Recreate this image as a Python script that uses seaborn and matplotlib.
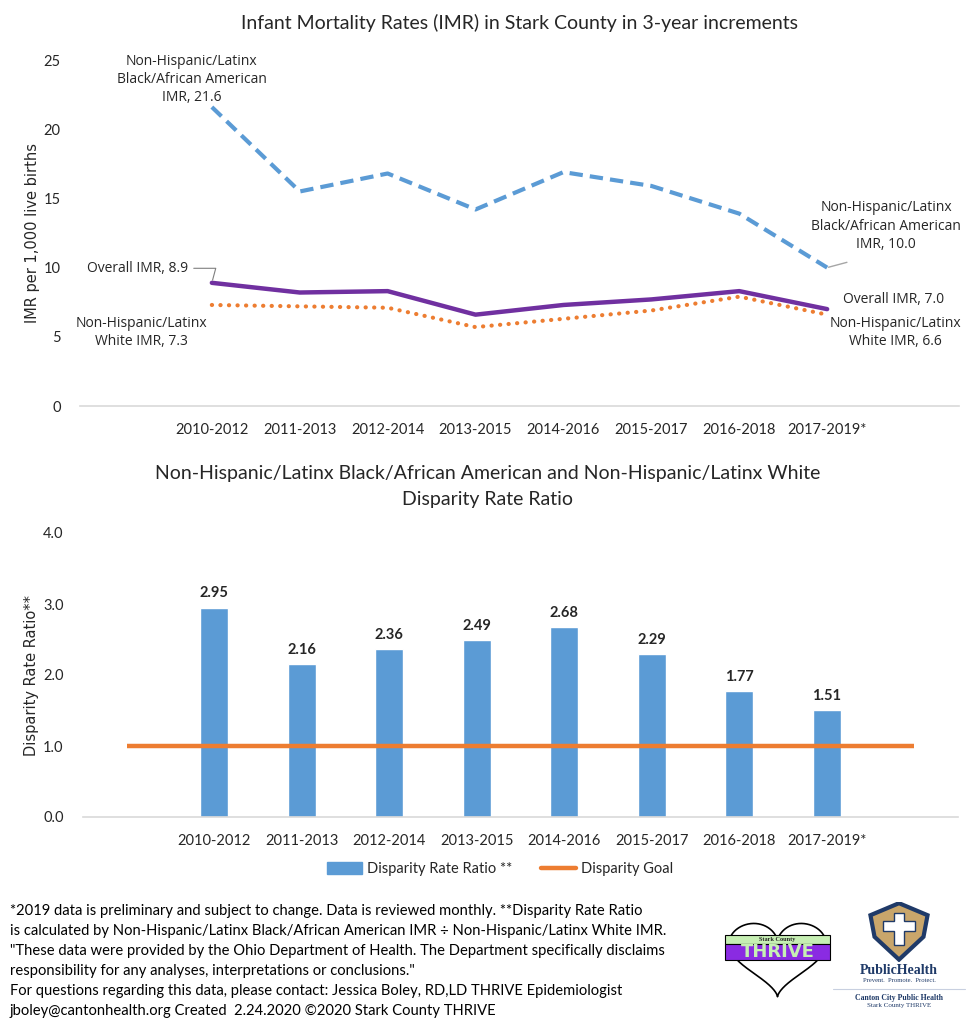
import numpy as np
import pandas as pd
import matplotlib
matplotlib.use("Agg")
import matplotlib.pyplot as plt
import matplotlib.patches as mpatches
from matplotlib.lines import Line2D
import seaborn as sns

# ---- data ----
periods = ["2010-2012", "2011-2013", "2012-2014", "2013-2015",
           "2014-2016", "2015-2017", "2016-2018", "2017-2019*"]
imr_black = [21.6, 15.5, 16.8, 14.2, 16.9, 15.9, 13.9, 10.0]
imr_overall = [8.9, 8.2, 8.3, 6.6, 7.3, 7.7, 8.3, 7.0]
imr_white = [7.3, 7.2, 7.1, 5.7, 6.3, 6.9, 7.9, 6.6]
disparity_ratio = [2.95, 2.16, 2.36, 2.49, 2.68, 2.29, 1.77, 1.51]
disparity_goal = 1.0

BLUE = "#5B9BD5"
ORANGE = "#ED7D31"
PURPLE = "#7030A0"
TXT = "#262626"

sns.set_theme(style="white")
plt.rcParams['font.family'] = ['Lato', 'DejaVu Sans']

fig = plt.figure(figsize=(9.71, 10.24), dpi=100)

# ---------------- top chart: IMR lines ----------------
ax1 = fig.add_axes([80 / 971, 1 - 406 / 1024, 879 / 971, 346 / 1024])
df = pd.DataFrame({"period": periods, "black": imr_black,
                   "overall": imr_overall, "white": imr_white})
sns.lineplot(data=df, x="period", y="black", ax=ax1, color=BLUE, lw=3.0,
             linestyle=(0, (3.2, 1.7)))
sns.lineplot(data=df, x="period", y="white", ax=ax1, color=ORANGE, lw=3.0,
             linestyle=(0, (0.05, 2.0)), dash_capstyle="round")
sns.lineplot(data=df, x="period", y="overall", ax=ax1, color=PURPLE, lw=3.2)
ax1.set_xlim(-1.5, len(periods) + 0.5)
ax1.set_ylim(0, 25)
ax1.set_yticks([0, 5, 10, 15, 20, 25])
ax1.set_xlabel("")
ax1.set_ylabel("IMR per 1,000 live births", fontsize=10.5, color=TXT,
               family="DejaVu Sans")
ax1.yaxis.set_label_coords(-0.046, 0.5)
ax1.tick_params(axis="y", length=0, pad=14, labelsize=10.5, labelcolor=TXT)
ax1.tick_params(axis="x", length=0, pad=12, labelsize=10.5, labelcolor=TXT)
for s in ["top", "right", "left"]:
    ax1.spines[s].set_visible(False)
ax1.spines["bottom"].set_color("#D9D9D9")
ax1.spines["bottom"].set_linewidth(1.2)
ax1.set_title("Infant Mortality Rates (IMR) in Stark County in 3-year increments",
              fontsize=14, color=TXT, pad=22)

ann = dict(fontsize=10, color=TXT, ha="center", va="center",
           family=["Open Sans", "DejaVu Sans"], linespacing=1.3)
last = len(periods) - 1
ax1.text(-0.23, 23.6, f"Non-Hispanic/Latinx\nBlack/African American\nIMR, {imr_black[0]:.1f}", **ann)
ax1.annotate(f"Overall IMR, {imr_overall[0]:.1f}", xy=(0, imr_overall[0]),
             xytext=(-0.85, 9.95), textcoords="data",
             arrowprops=dict(arrowstyle="-", color="#7F7F7F", lw=0.8,
                             connectionstyle="angle,angleA=0,angleB=75,rad=0",
                             shrinkA=2, shrinkB=2), **ann)
ax1.text(-0.8, 5.3, f"Non-Hispanic/Latinx\nWhite IMR, {imr_white[0]:.1f}", **ann)
ax1.annotate(f"Non-Hispanic/Latinx\nBlack/African American\nIMR, {imr_black[last]:.1f}",
             xy=(last, imr_black[last]), xytext=(last + 0.67, 13.0), textcoords="data",
             arrowprops=dict(arrowstyle="-", color="#A6A6A6", lw=1.0,
                             shrinkA=20, shrinkB=1, relpos=(0.5, 0.0)), **ann)
ax1.text(last + 0.76, 7.66, f"Overall IMR, {imr_overall[last]:.1f}", **ann)
ax1.text(last + 0.78, 5.3, f"Non-Hispanic/Latinx\nWhite IMR, {imr_white[last]:.1f}", **ann)

# ---------------- bottom chart: disparity ratio ----------------
ax2 = fig.add_axes([83 / 971, 1 - 817 / 1024, 875 / 971, 284 / 1024])
sns.barplot(x=periods, y=disparity_ratio, ax=ax2, color=BLUE, width=0.32,
            saturation=1)
goal_x = np.arange(-1, len(periods) + 1)
ax2.plot(goal_x, [disparity_goal] * len(goal_x), color=ORANGE, lw=3.2,
         solid_capstyle="butt", zorder=3)
for i, v in enumerate(disparity_ratio):
    ax2.text(i, v + 0.1, f"{v:.2f}", ha="center", va="bottom", fontsize=10.5,
             fontweight="bold", color=TXT)
ax2.set_xlim(-1.5, len(periods) + 0.5)
ax2.set_ylim(0, 4.0)
ax2.set_yticks([0, 1, 2, 3, 4])
ax2.set_yticklabels([f"{t:.1f}" for t in [0, 1, 2, 3, 4]])
ax2.set_ylabel("Disparity Rate Ratio**", fontsize=10.5, color=TXT,
               family="DejaVu Sans")
ax2.yaxis.set_label_coords(-0.05, 0.5)
ax2.tick_params(axis="y", length=0, pad=14, labelsize=10.5, labelcolor=TXT)
ax2.tick_params(axis="x", length=0, pad=12, labelsize=10.5, labelcolor=TXT)
for s in ["top", "right", "left"]:
    ax2.spines[s].set_visible(False)
ax2.spines["bottom"].set_color("#D9D9D9")
ax2.spines["bottom"].set_linewidth(1.2)
fig.text(0.502, 1 - 473 / 1024,
         "Non-Hispanic/Latinx Black/African American and Non-Hispanic/Latinx White",
         ha="center", va="center", fontsize=14, color=TXT)
fig.text(0.502, 1 - 500 / 1024, "Disparity Rate Ratio", ha="center",
         va="center", fontsize=14, color=TXT)

handles = [mpatches.Patch(color=BLUE, label="Disparity Rate Ratio **"),
           Line2D([0], [0], color=ORANGE, lw=3.2, label="Disparity Goal")]
fig.legend(handles=handles, loc="center", bbox_to_anchor=(0.515, 1 - 869 / 1024),
           ncol=2, frameon=False, fontsize=10.5, handlelength=2.4,
           handleheight=0.8, columnspacing=2.0, handletextpad=0.3,
           labelcolor=TXT)

# ---------------- footer ----------------
footer = ("*2019 data is preliminary and subject to change. Data is reviewed monthly. **Disparity Rate Ratio\n"
          "is calculated by Non-Hispanic/Latinx Black/African American IMR \u00f7 Non-Hispanic/Latinx White IMR.\n"
          "\"These data were provided by the Ohio Department of Health. The Department specifically disclaims\n"
          "responsibility for any analyses, interpretations or conclusions.\"\n"
          "For questions regarding this data, please contact: Jessica Boley, RD,LD THRIVE Epidemiologist\n"
          "jboley@cantonhealth.org Created  2.24.2020 \u00a92020 Stark County THRIVE")
fig.text(10 / 971, 1 - 904 / 1024, footer, ha="left", va="top", fontsize=10.6,
         color="black", linespacing=1.55)

# ---------------- logos ----------------
axh = fig.add_axes([723 / 971, 1 - 998 / 1024, 109 / 971, 76 / 1024])
t = np.linspace(0, 2 * np.pi, 400)
hx = 16 * np.sin(t) ** 3
hy = 13 * np.cos(t) - 5 * np.cos(2 * t) - 2 * np.cos(3 * t) - np.cos(4 * t)
axh.plot(hx, hy, color="black", lw=1.2)
axh.add_patch(mpatches.Rectangle((-17.5, 4.0), 35, 3.2, facecolor="#C6EFB3",
                                 edgecolor="black", lw=0.8, zorder=3))
axh.add_patch(mpatches.Rectangle((-17.5, -2.6), 35, 6.6, facecolor="#8A2BE2",
                                 edgecolor="black", lw=0.8, zorder=3))
axh.text(0, 5.6, "Stark County", ha="center", va="center", fontsize=4.5,
         family="Liberation Serif", fontweight="bold", zorder=4)
axh.text(0, 0.7, "THRIVE", ha="center", va="center", fontsize=13,
         fontweight="bold", color="#C6EFB3", family="DejaVu Sans", zorder=4)
axh.set_xlim(-18, 18)
axh.set_ylim(-17.5, 12.5)
axh.axis("off")

axs = fig.add_axes([865 / 971, 1 - 962 / 1024, 68 / 971, 60 / 1024])
shield = [(0.08, 0.78), (0.5, 0.98), (0.92, 0.78), (0.86, 0.42), (0.5, 0.04),
          (0.14, 0.42)]
axs.add_patch(mpatches.Polygon(shield, closed=True, facecolor="#C9A66B",
                               edgecolor="#1F3A68", lw=3.0))
cross = [(0.42, 0.82), (0.58, 0.82), (0.58, 0.68), (0.74, 0.68), (0.74, 0.52),
         (0.58, 0.52), (0.58, 0.28), (0.42, 0.28), (0.42, 0.52), (0.26, 0.52),
         (0.26, 0.68), (0.42, 0.68)]
axs.add_patch(mpatches.Polygon(cross, closed=True, facecolor="white",
                               edgecolor="#1F3A68", lw=1.0))
axs.set_xlim(0, 1)
axs.set_ylim(0, 1)
axs.axis("off")
fig.text(899 / 971, 1 - 971 / 1024, "PublicHealth", ha="center", va="center",
         fontsize=10, fontweight="bold", color="#1F3A68", family="Liberation Serif")
fig.text(899 / 971, 1 - 981 / 1024, "Prevent.  Promote.  Protect.", ha="center",
         va="center", fontsize=4.8, color="#1F3A68", family="Liberation Serif")
fig.add_artist(Line2D([833 / 971, 965 / 971], [1 - 989 / 1024, 1 - 989 / 1024],
                      color="#C8D0E0", lw=0.8))
fig.text(899 / 971, 1 - 998 / 1024, "Canton City Public Health", ha="center",
         va="center", fontsize=5.6, fontweight="bold", color="#1F3A68",
         family="Liberation Serif")
fig.text(899 / 971, 1 - 1006 / 1024, "Stark County THRIVE", ha="center",
         va="center", fontsize=5.0, color="#1F3A68", family="Liberation Serif")

fig.savefig("out.png", dpi=100)
